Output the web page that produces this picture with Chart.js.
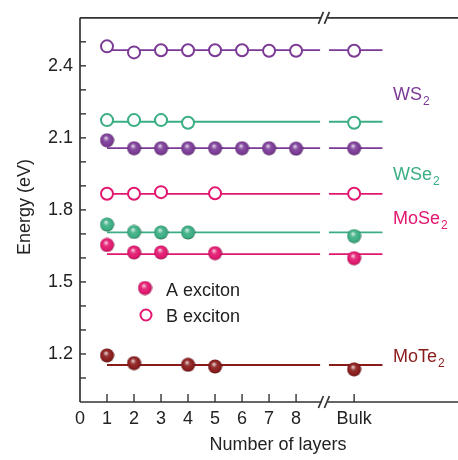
<!DOCTYPE html>
<html><head><meta charset="utf-8">
<script src="https://cdn.jsdelivr.net/npm/chart.js@4/dist/chart.umd.min.js"></script>
<style>html,body{margin:0;padding:0;background:#fff}#wrap{width:458px;height:460px;position:relative}</style>
</head><body><div id="wrap"><canvas id="c" width="458" height="460"></canvas></div>
<script>
// ---- data ----
const layerTicks = [0, 1, 2, 3, 4, 5, 6, 7, 8];
const bulkX = 10.15;
const breakX = 9.05;
const bulkLabel = "Bulk";
const yTickLabels = [1.2, 1.5, 1.8, 2.1, 2.4];

const ws2Layers = [1, 2, 3, 4, 5, 6, 7, 8];
const ws2A = [2.090, 2.057, 2.057, 2.057, 2.057, 2.057, 2.057, 2.055];
const ws2ABulk = 2.057;
const ws2B = [2.481, 2.456, 2.465, 2.465, 2.465, 2.465, 2.463, 2.463];
const ws2BBulk = 2.463;

const wse2Layers = [1, 2, 3, 4];
const wse2A = [1.739, 1.708, 1.706, 1.706];
const wse2ABulk = 1.691;
const wse2B = [2.174, 2.174, 2.174, 2.163];
const wse2BBulk = 2.163;

const mose2Layers = [1, 2, 3, 5];
const mose2A = [1.654, 1.623, 1.623, 1.620];
const mose2ABulk = 1.599;
const mose2B = [1.867, 1.867, 1.874, 1.869];
const mose2BBulk = 1.867;

const mote2Layers = [1, 2, 4, 5];
const mote2A = [1.194, 1.162, 1.155, 1.148];
const mote2ABulk = 1.136;

const fitLevels = { ws2A: 2.057, ws2B: 2.465, wse2A: 1.706, wse2B: 2.167, mose2A: 1.616, mose2B: 1.867, mote2A: 1.154 };
const fitLeft = [1, 8.89];
const fitRight = [9.22, 11.2];

const COL = { ws2: '#7b3a96', wse2: '#3aae82', mose2: '#e2176f', mote2: '#8a1b1b' };
const FONT = '"Liberation Sans", Arial, Helvetica, sans-serif';

// ---- sphere markers ----
function shade(hex, f) {
  const n = parseInt(hex.slice(1), 16);
  let r = (n >> 16) & 255, g = (n >> 8) & 255, b = n & 255;
  if (f > 0) { r += (255 - r) * f; g += (255 - g) * f; b += (255 - b) * f; }
  else { r *= (1 + f); g *= (1 + f); b *= (1 + f); }
  return `rgb(${Math.round(r)},${Math.round(g)},${Math.round(b)})`;
}
function sphere(hex) {
  const s = 15, cv = document.createElement('canvas');
  cv.width = s; cv.height = s;
  const c = cv.getContext('2d');
  const g = c.createRadialGradient(6.3, 5.0, 0.5, 7.5, 7.5, 7.2);
  g.addColorStop(0, shade(hex, 0.75));
  g.addColorStop(0.35, shade(hex, 0.1));
  g.addColorStop(0.8, hex);
  g.addColorStop(1, shade(hex, -0.4));
  c.fillStyle = g;
  c.beginPath(); c.arc(7.5, 7.5, 7, 0, Math.PI * 2); c.fill();
  return cv;
}
const spheres = { ws2: sphere(COL.ws2), wse2: sphere(COL.wse2), mose2: sphere(COL.mose2), mote2: sphere(COL.mote2) };

function pts(layers, vals, bulk) {
  const a = layers.map((x, i) => ({ x, y: vals[i] }));
  a.push({ x: bulkX, y: bulk });
  return a;
}
function fit(level) {
  return [{ x: fitLeft[0], y: level }, { x: fitLeft[1], y: level }, { x: (fitLeft[1] + fitRight[0]) / 2, y: null },
          { x: fitRight[0], y: level }, { x: fitRight[1], y: level }];
}
function lineDs(level, color) {
  return { type: 'line', data: fit(level), borderColor: color, borderWidth: 1.8, pointRadius: 0, showLine: true, spanGaps: false, order: 10 };
}
function filledDs(data, key) {
  return { type: 'scatter', data, pointStyle: spheres[key], pointRadius: 7, order: 1 };
}
function openDs(data, color) {
  return { type: 'scatter', data, pointStyle: 'circle', pointRadius: 6, backgroundColor: '#fff', borderColor: color, pointBorderWidth: 2, borderWidth: 2, order: 1 };
}

const datasets = [
  lineDs(fitLevels.ws2B, COL.ws2), lineDs(fitLevels.ws2A, COL.ws2),
  lineDs(fitLevels.wse2B, COL.wse2), lineDs(fitLevels.wse2A, COL.wse2),
  lineDs(fitLevels.mose2B, COL.mose2), lineDs(fitLevels.mose2A, COL.mose2),
  lineDs(fitLevels.mote2A, COL.mote2),
  openDs(pts(ws2Layers, ws2B, ws2BBulk), COL.ws2),
  filledDs(pts(ws2Layers, ws2A, ws2ABulk), 'ws2'),
  openDs(pts(wse2Layers, wse2B, wse2BBulk), COL.wse2),
  filledDs(pts(wse2Layers, wse2A, wse2ABulk), 'wse2'),
  openDs(pts(mose2Layers, mose2B, mose2BBulk), COL.mose2),
  filledDs(pts(mose2Layers, mose2A, mose2ABulk), 'mose2'),
  filledDs(pts(mote2Layers, mote2A, mote2ABulk), 'mote2'),
];

const frame = {
  id: 'frame',
  afterDraw(chart) {
    const ctx = chart.ctx, a = chart.chartArea;
    const xs = chart.scales.x, ys = chart.scales.y;
    const bx = xs.getPixelForValue(breakX);
    const right = chart.width;
    ctx.save();
    ctx.strokeStyle = '#333'; ctx.lineWidth = 1.7;
    // top and bottom lines with break gap
    [a.top, a.bottom].forEach(yy => {
      ctx.beginPath();
      ctx.moveTo(a.left, yy); ctx.lineTo(bx - 3, yy);
      ctx.moveTo(bx + 3, yy); ctx.lineTo(right, yy);
      ctx.stroke();
      ctx.beginPath();
      ctx.moveTo(bx - 6, yy + 6); ctx.lineTo(bx - 1, yy - 6);
      ctx.moveTo(bx + 0, yy + 6); ctx.lineTo(bx + 5, yy - 6);
      ctx.stroke();
    });
    // left axis
    ctx.beginPath(); ctx.moveTo(a.left, a.top); ctx.lineTo(a.left, a.bottom); ctx.stroke();
    // y ticks inside
    ctx.lineWidth = 1.4;
    for (let k = 11; k <= 25; k++) {
      const py = ys.getPixelForValue(k / 10);
      ctx.beginPath(); ctx.moveTo(a.left, py); ctx.lineTo(a.left + 6, py); ctx.stroke();
    }
    // x ticks inside
    layerTicks.concat([bulkX]).forEach(v => {
      if (v === 0) return;
      const px = xs.getPixelForValue(v);
      ctx.beginPath(); ctx.moveTo(px, a.bottom); ctx.lineTo(px, a.bottom - 8); ctx.stroke();
    });
    // axis titles
    ctx.fillStyle = '#222';
    ctx.font = '18px ' + FONT;
    ctx.textAlign = 'center'; ctx.textBaseline = 'middle';
    ctx.fillText('Number of layers', 278, 445);
    ctx.save(); ctx.translate(25, 207); ctx.rotate(-Math.PI / 2); ctx.fillText('Energy (eV)', 0, 0); ctx.restore();
    // legend
    ctx.drawImage(spheres.mose2, 145 - 7.5, 288 - 7.5);
    ctx.beginPath(); ctx.arc(146, 315, 5.5, 0, Math.PI * 2);
    ctx.fillStyle = '#fff'; ctx.fill(); ctx.strokeStyle = COL.mose2; ctx.lineWidth = 2; ctx.stroke();
    ctx.fillStyle = '#222'; ctx.textAlign = 'left'; ctx.textBaseline = 'alphabetic';
    ctx.font = '18px ' + FONT;
    ctx.fillText('A exciton', 166, 296);
    ctx.fillText('B exciton', 166, 322);
    // compound labels
    const lab = (main, x, y, color) => {
      ctx.fillStyle = color; ctx.font = '18px ' + FONT;
      ctx.fillText(main, x, y);
      const w = ctx.measureText(main).width;
      ctx.font = '12px ' + FONT;
      ctx.fillText('2', x + w + 1, y + 5);
    };
    lab('WS', 393, 100, COL.ws2);
    lab('WSe', 393, 180, COL.wse2);
    lab('MoSe', 393, 224, COL.mose2);
    lab('MoTe', 393, 362, COL.mote2);
    ctx.restore();
  }
};

new Chart(document.getElementById('c'), {
  data: { datasets },
  plugins: [frame],
  options: {
    responsive: false, animation: false,
    layout: { padding: { top: 14, left: 0, right: 0, bottom: 0 } },
    plugins: { legend: { display: false }, tooltip: { enabled: false } },
    scales: {
      x: {
        type: 'linear', min: 0, max: 13.7,
        afterFit(s) { s.height = 58; s.paddingRight = 0; },
        afterBuildTicks(s) { s.ticks = layerTicks.concat([bulkX]).map(v => ({ value: v })); },
        grid: { display: false, drawTicks: false },
        border: { display: false },
        ticks: {
          padding: 6, color: '#222', font: { size: 18, family: FONT }, autoSkip: false, maxRotation: 0,
          callback: v => (v === bulkX ? bulkLabel : String(v))
        }
      },
      y: {
        type: 'linear', min: 1.0, max: 2.6,
        afterFit(s) { s.width = 80; s.paddingRight = 0; },
        afterBuildTicks(s) { s.ticks = yTickLabels.map(v => ({ value: v })); },
        grid: { display: false, drawTicks: false },
        border: { display: false },
        ticks: { padding: 7, color: '#222', font: { size: 18, family: FONT }, callback: v => v.toFixed(1) }
      }
    }
  }
});
</script></body></html>
